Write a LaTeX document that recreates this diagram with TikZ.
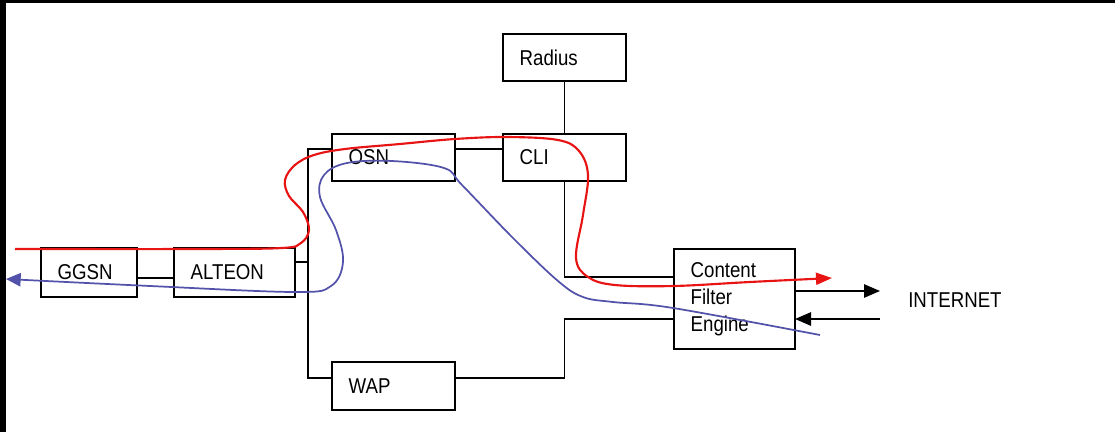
\documentclass[tikz,border=0pt]{standalone}
\usepackage{fontspec}
\setmainfont{Liberation Sans}
\usetikzlibrary{arrows.meta}
\newcommand\stretchtxt[1]{\scalebox{1}[1.15]{#1}}
\definecolor{pathred}{RGB}{232,20,20}
\definecolor{pathblue}{RGB}{82,82,170}
\begin{document}
\begin{tikzpicture}[x=0.75pt,y=-0.75pt,
  box/.style={draw, line width=1.3pt, rectangle, anchor=north west, align=left,
    inner xsep=12.5pt, inner ysep=0pt, outer sep=0pt,
    font=\fontsize{14}{17.9}\selectfont},
  wire/.style={draw, line width=1.3pt},
  tip/.style={-{Triangle[length=12pt,width=10pt]}}]
\useasboundingbox (0,0) rectangle (1115,432);
\fill[black] (0,0) rectangle (1115,3);
\fill[black] (0,0) rectangle (6,432);

\node[box, text width=67.25pt, minimum height=35.25pt] (radius) at (503,34) {\stretchtxt{Radius}};
\node[box, text width=67.25pt, minimum height=35.25pt] (osn) at (332,134) {\stretchtxt{OSN}};
\node[box, text width=67.25pt, minimum height=35.25pt] (cli) at (503,134) {\stretchtxt{CLI}};
\node[box, text width=47pt, minimum height=36.75pt] (ggsn) at (41,248) {\stretchtxt{GGSN}};
\node[box, text width=65.75pt, minimum height=36.75pt] (alteon) at (174,248) {\stretchtxt{ALTEON}};
\node[box, text width=65.75pt, minimum height=75pt] (content) at (674,249)
  {\stretchtxt{\begin{tabular}{@{}l@{}}Content\\Filter\\Engine\end{tabular}}};
\node[box, text width=67.25pt, minimum height=36pt] (wap) at (332,362) {\stretchtxt{WAP}};
\node[anchor=west, inner sep=0pt, font=\fontsize{14}{17}\selectfont] (inet) at (908,300) {\stretchtxt{INTERNET}};

\coordinate (yg) at (0,278);
\coordinate (busT) at (308,149);
\coordinate (busB) at (308,378);
\coordinate (busA) at (308,262);
\coordinate (cliC) at (564.5,277);
\coordinate (wapC1) at (564.5,378);
\coordinate (wapC2) at (564.5,319);
\coordinate (outE) at (880,291);
\coordinate (inS) at (880,319);

\draw[wire] (ggsn.east |- yg) -- (alteon.west |- yg);
\draw[wire] (osn.west |- busT) -- (busT) -- (busB) -- (wap.west |- busB);
\draw[wire] (alteon.east |- busA) -- (busA);
\draw[wire] (osn.east |- busT) -- (cli.west |- busT);
\draw[wire] (radius.south) -- (cli.north);
\draw[wire] (cli.south) -- (cliC) -- (content.west |- cliC);
\draw[wire] (wap.east |- wapC1) -- (wapC1) -- (wapC2) -- (content.west |- wapC2);
\draw[wire, tip] (content.east |- outE) -- (outE);
\draw[wire, tip] (inS) -- (content.east |- inS);

\draw[pathred, line width=1.6pt, -{Triangle[length=12pt,width=9pt]}]
  plot[smooth, tension=0.6] coordinates {(15,249) (200,249) (282,248) (301,243)
  (309,230) (303,212) (289,196) (285,180) (295,165) (314,155) (345,149) (400,144)
  (455,139) (507,137) (558,140) (579,151) (588,175) (583,215) (576,258) (588,277)
  (615,285) (674,286) (750,282) (832,278)};

\draw[pathblue, line width=1.3pt, -{Triangle[length=11pt,width=10pt]}]
  plot[smooth, tension=0.6] coordinates {(820,335) (673,308) (613,302) (583,297)
  (558,281) (513,238) (462,185) (444,168) (392,161) (347,163) (324,175) (320,197)
  (336,230) (343,262) (331,286) (295,292) (150,286) (6,279)};
\end{tikzpicture}
\end{document}
